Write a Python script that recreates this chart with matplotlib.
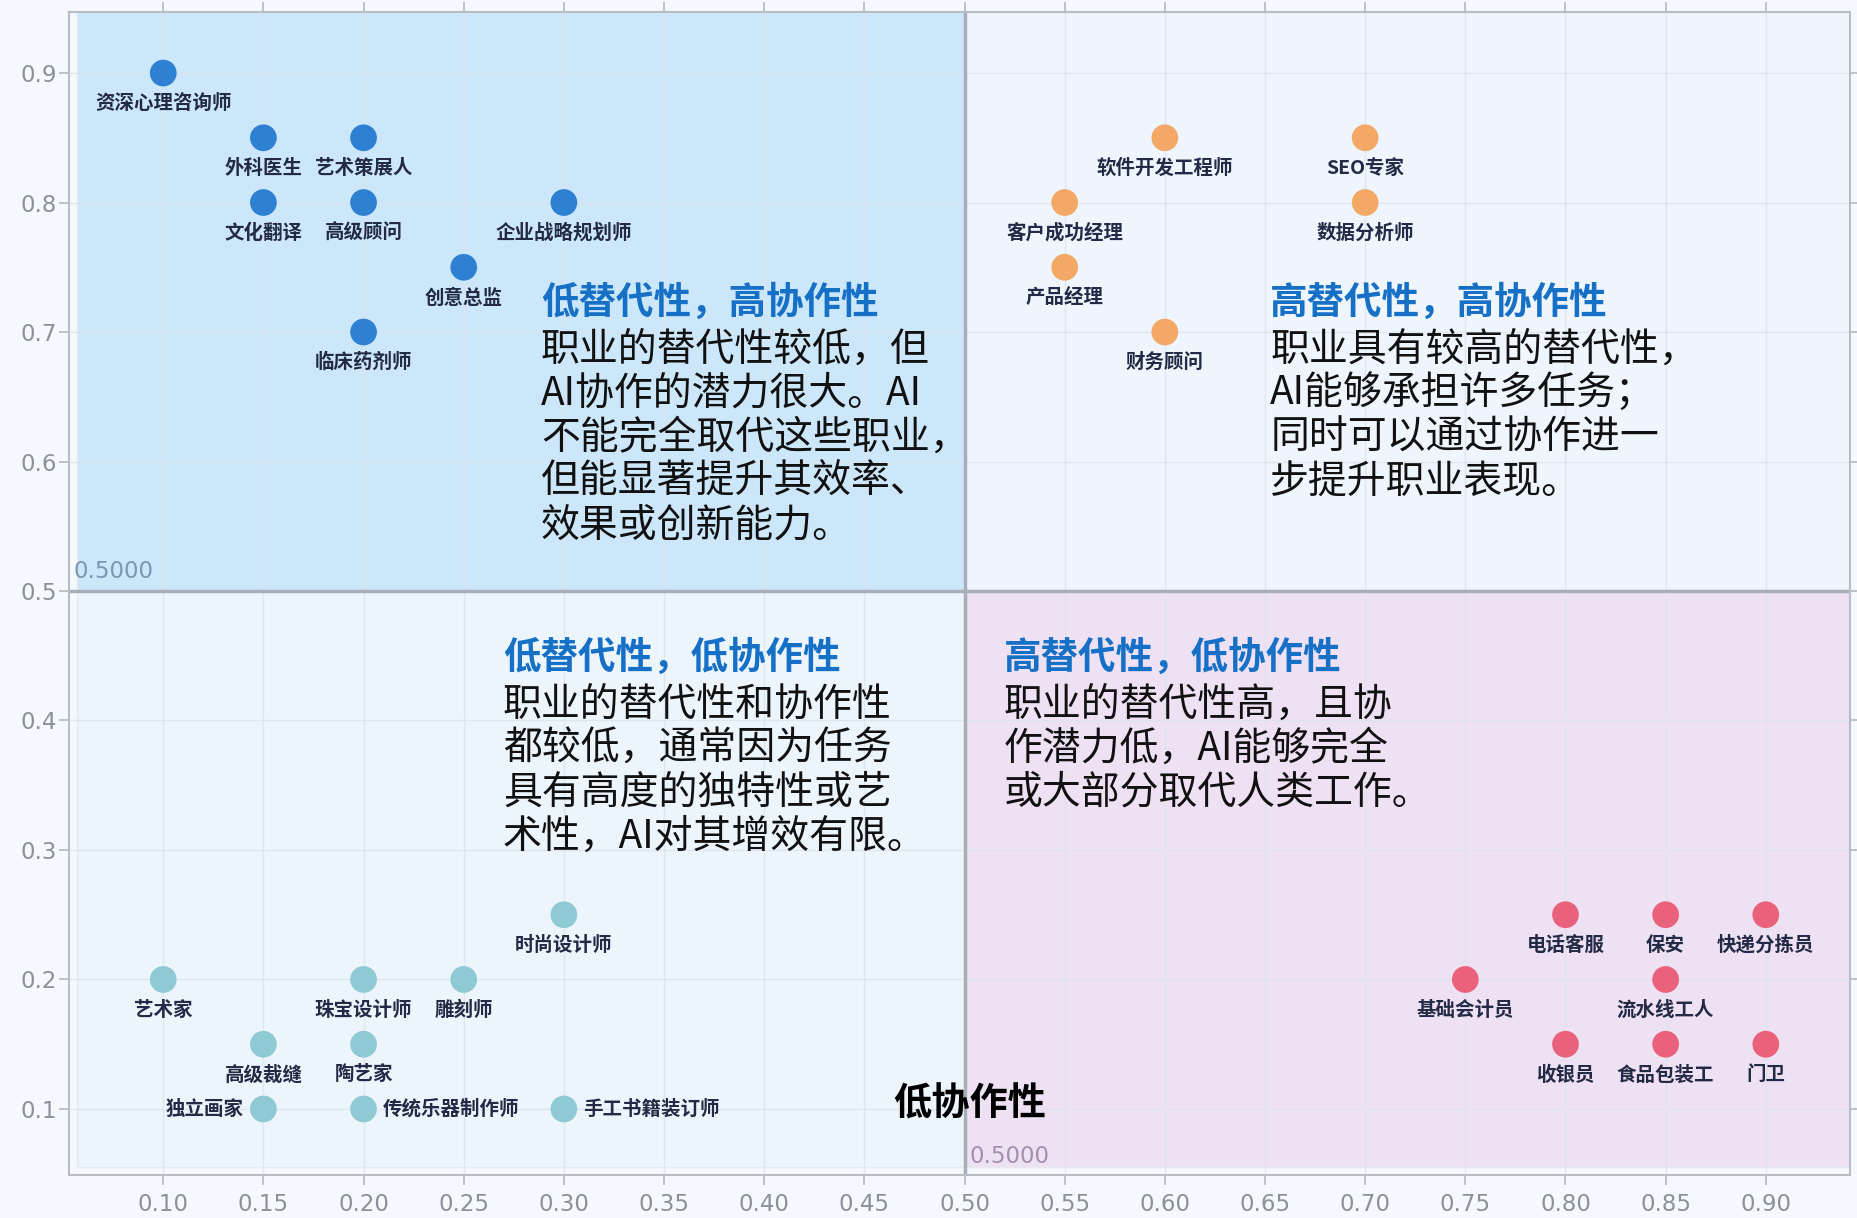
import numpy as np
import matplotlib
matplotlib.use('Agg')
import matplotlib.pyplot as plt
from matplotlib.patches import Rectangle

plt.rcParams['font.family'] = ['Noto Sans CJK SC', 'DejaVu Sans']

#==============================================================================
#                         Data
#==============================================================================
# quadrant: low replace / high collab
tl_names = ['资深心理咨询师', '外科医生', '艺术策展人', '文化翻译', '高级顾问',
            '企业战略规划师', '创意总监', '临床药剂师']
tl_x = [0.10, 0.15, 0.20, 0.15, 0.20, 0.30, 0.25, 0.20]
tl_y = [0.90, 0.85, 0.85, 0.80, 0.80, 0.80, 0.75, 0.70]

# high replace / high collab
tr_names = ['软件开发工程师', 'SEO专家', '客户成功经理', '数据分析师', '产品经理', '财务顾问']
tr_x = [0.60, 0.70, 0.55, 0.70, 0.55, 0.60]
tr_y = [0.85, 0.85, 0.80, 0.80, 0.75, 0.70]

# low replace / low collab
bl_names = ['时尚设计师', '艺术家', '珠宝设计师', '雕刻师', '高级裁缝', '陶艺家',
            '独立画家', '传统乐器制作师', '手工书籍装订师']
bl_x = [0.30, 0.10, 0.20, 0.25, 0.15, 0.20, 0.15, 0.20, 0.30]
bl_y = [0.25, 0.20, 0.20, 0.20, 0.15, 0.15, 0.10, 0.10, 0.10]
bl_side = ['below', 'below', 'below', 'below', 'below', 'below', 'left', 'right', 'right']

# high replace / low collab
br_names = ['电话客服', '保安', '快递分拣员', '基础会计员', '流水线工人',
            '收银员', '食品包装工', '门卫']
br_x = [0.80, 0.85, 0.90, 0.75, 0.85, 0.80, 0.85, 0.90]
br_y = [0.25, 0.25, 0.25, 0.20, 0.20, 0.15, 0.15, 0.15]

x_ticks = [0.10, 0.15, 0.20, 0.25, 0.30, 0.35, 0.40, 0.45, 0.50,
           0.55, 0.60, 0.65, 0.70, 0.75, 0.80, 0.85, 0.90]
y_ticks = [0.1, 0.2, 0.3, 0.4, 0.5, 0.6, 0.7, 0.8, 0.9]

split = 0.5

quad_titles = ['低替代性，高协作性', '高替代性，高协作性',
               '低替代性，低协作性', '高替代性，低协作性']
quad_bodies = [
    ['职业的替代性较低，但', 'AI协作的潜力很大。AI', '不能完全取代这些职业，',
     '但能显著提升其效率、', '效果或创新能力。'],
    ['职业具有较高的替代性，', 'AI能够承担许多任务；', '同时可以通过协作进一',
     '步提升职业表现。'],
    ['职业的替代性和协作性', '都较低，通常因为任务', '具有高度的独特性或艺',
     '术性，AI对其增效有限。'],
    ['职业的替代性高，且协', '作潜力低，AI能够完全', '或大部分取代人类工作。'],
]
quad_text_pos = [(0.2885, 0.7233), (0.6526, 0.7233), (0.2696, 0.4488), (0.5195, 0.4488)]
first_gap = 0.0366
line_step = 0.034

#==============================================================================
#                         Plotting
#==============================================================================
bg = '#f5f8fd'
fig = plt.figure(figsize=(18.57, 12.18), dpi=100, facecolor=bg)
ax = fig.add_axes([0.0372, 0.0353, 0.9590, 0.9547])
ax.set_facecolor(bg)

xlo, xhi = 0.053, 0.942
ylo, yhi = 0.049, 0.947
ax.set_xlim(xlo, xhi)
ax.set_ylim(ylo, yhi)

# quadrant backgrounds
x0 = xlo + 0.004
y0 = ylo + 0.0065
quads = [((x0, split), split - x0, yhi - split, '#cde7fa'),
         ((split, split), xhi - split, yhi - split, '#eff5fd'),
         ((x0, y0), split - x0, split - y0, '#edf5fc'),
         ((split, y0), xhi - split, split - y0, '#efe1f4')]
for (xy, w, h, c) in quads:
    ax.add_patch(Rectangle(xy, w, h, facecolor=c, edgecolor='#e4eaf0',
                           lw=1.0, zorder=0))

ax.grid(True, color='#dbe4ee', lw=1.0, alpha=0.8, zorder=0.5)
ax.set_axisbelow(True)

# split lines
ax.axhline(split, color='#a7aeb9', lw=2.5, zorder=1)
ax.axvline(split, color='#a7aeb9', lw=2.5, zorder=1)
ax.text(0.0551, split + 0.006, '%.4f' % split, color='#7a97b2', fontsize=16.5,
        family='DejaVu Sans', ha='left', va='bottom', zorder=2)
ax.text(0.5025, 0.0583, '%.4f' % split, color='#a58fae', fontsize=16.5,
        family='DejaVu Sans', ha='left', va='baseline', zorder=2)
ax.text(split + 0.0025, 0.1035, '低协作性', color='black', fontsize=27.5,
        fontweight='bold', ha='center', va='center', zorder=3)

lab_color = '#232a45'
groups = [(tl_names, tl_x, tl_y, '#2e80d3', None),
          (tr_names, tr_x, tr_y, '#f4a866', None),
          (bl_names, bl_x, bl_y, '#8ec9d4', bl_side),
          (br_names, br_x, br_y, '#e9617b', None)]
for names, gx, gy, col, sides in groups:
    ax.scatter(gx, gy, s=370, color=col, edgecolors='none', zorder=3)
    for i, name in enumerate(names):
        side = sides[i] if sides else 'below'
        if side == 'below':
            off, ha, va = (0, -22), 'center', 'center'
        elif side == 'left':
            off, ha, va = (-14, 0), 'right', 'center'
        else:
            off, ha, va = (14, 0), 'left', 'center'
        ax.annotate(name, (gx[i], gy[i]), xytext=off, textcoords='offset points',
                    ha=ha, va=va, fontsize=14, fontweight='bold',
                    color=lab_color, zorder=4)

# quadrant descriptions
for title, body, (tx, ty) in zip(quad_titles, quad_bodies, quad_text_pos):
    ax.text(tx, ty, title, color='#1670c6', fontsize=27, fontweight='bold',
            ha='left', va='center', zorder=4)
    for k, line in enumerate(body):
        ax.text(tx, ty - first_gap - line_step * k, line, color='#111111',
                fontsize=28, ha='left', va='center', zorder=4)

# axes styling
ax.set_xticks(x_ticks)
ax.set_xticklabels(['%.2f' % v for v in x_ticks])
ax.set_yticks(y_ticks)
ax.set_yticklabels(['%.1f' % v for v in y_ticks])
ax.tick_params(axis='both', direction='out', length=7, width=1.2,
               color='#b3b8c0', labelcolor='#8a919b', labelsize=16.5,
               top=True, right=True)
ax.tick_params(axis='x', pad=6)
ax.tick_params(axis='y', pad=2)
for lab in ax.get_xticklabels() + ax.get_yticklabels():
    lab.set_family('DejaVu Sans')
for sp in ax.spines.values():
    sp.set_color('#b8bdc5')
    sp.set_linewidth(1.5)

plt.savefig('out.png', dpi=100, facecolor=bg)
